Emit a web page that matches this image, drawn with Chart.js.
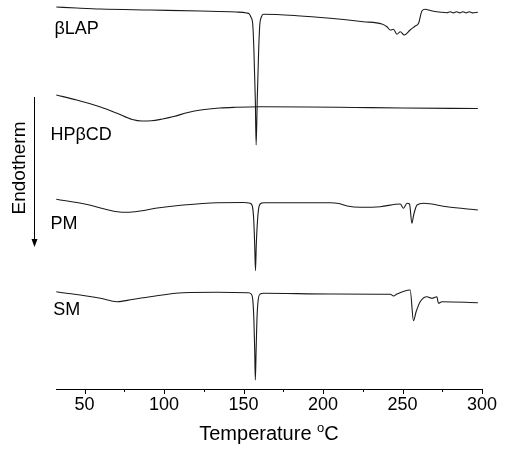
<!DOCTYPE html>
<html>
<head>
<meta charset="utf-8">
<script src="https://cdn.jsdelivr.net/npm/chart.js@4.4.0/dist/chart.umd.min.js"></script>
<style>
  html, body { margin: 0; padding: 0; background: #fff; }
</style>
</head>
<body>
<canvas id="dscChart" width="507" height="452"></canvas>
<script>
// DSC curves: temperature (°C) and heat flow (arbitrary units, curves stacked)
const lapTemp = [32.2, 45, 60, 91, 123, 145, 152, 153.6, 154.6, 155.8, 156.5, 157.4, 157.9, 158.6, 159.5, 160.2, 161.2, 162.5, 183.6, 204.5,
  225.3, 237, 240.2, 242.3, 244.3, 246.5, 248.6, 251.1, 254.8, 258, 260.1, 262.2, 264.3, 267.5, 271.6, 274, 277.9, 280, 282, 284,
  286, 288, 290, 292, 294, 297.4];
const lapFlow = [38.2, 38.1, 38.0, 37.9, 37.8, 37.7, 37.6, 37.5, 37.2, 36.4, 33.9, 28.9, 24.4, 28.9, 33.9, 36.4, 37.2, 37.47, 37.33, 37.07,
  36.73, 36.5, 36.23, 35.9, 35.97, 35.47, 35.73, 35.4, 35.9, 36.3, 36.57, 37.8, 37.97, 37.85, 37.73, 37.68, 37.63, 37.73, 37.61, 37.73,
  37.61, 37.73, 37.61, 37.73, 37.61, 37.67];

const cdTemp = [32.2, 45, 60, 70, 80, 86, 92, 99, 106, 115, 123, 135, 145, 160, 190, 220, 250, 297.4];
const cdFlow = [29.4, 28.9, 28.2, 27.6, 26.95, 26.8, 26.82, 27.0, 27.25, 27.65, 27.9, 28.1, 28.17, 28.22, 28.2, 28.15, 28.1, 28.05];

const pmTemp = [32.2, 50, 70.6, 76.9, 85, 95.7, 112.1, 133.5, 150, 154.2, 155.5, 156.4, 157, 157.5, 158, 158.8, 159.8, 161.5, 163, 204.5,
  210, 215.2, 223.4, 236, 248.6, 250.6, 252.8, 254.4, 255.9, 257, 259.1, 263.2, 277.9, 297.4];
const pmFlow = [18.97, 18.5, 17.73, 17.67, 17.8, 18.1, 18.4, 18.63, 18.65, 18.57, 18.3, 16.9, 14.4, 11.83, 14.4, 16.9, 18.3, 18.6, 18.63, 18.63,
  18.55, 18.3, 18.17, 18.23, 18.5, 18.07, 18.57, 18.5, 16.57, 17.4, 18.4, 18.57, 18.23, 17.9];

const smTemp = [32.2, 59.9, 70.4, 80, 91.3, 112.1, 133.5, 153, 154.8, 155.8, 156.5, 157, 157.4, 157.9, 158.4, 159.2, 160.5, 162.6, 204.5, 242.3,
  244.4, 246.5, 254.8, 256.9, 258.5, 261.1, 265.4, 268.5, 271.6, 272.6, 274.8, 297.4];
const smFlow = [9.73, 9.07, 8.73, 8.95, 9.23, 9.63, 9.67, 9.63, 9.5, 8.9, 6.9, 3.9, 0.9, 3.9, 6.9, 8.9, 9.5, 9.57, 9.5, 9.47,
  9.3, 9.5, 9.9, 6.83, 7.7, 8.73, 9.23, 9.07, 9.23, 8.57, 8.73, 8.63];

const curveNames = ['βLAP', 'HPβCD', 'PM', 'SM'];
const xTicks = [50, 100, 150, 200, 250, 300];
const xMinorTicks = [75, 125, 175, 225, 275];

// where the curve names sit, in data units (temperature, flow)
const nameAnchors = [[31, 35.5], [28.5, 24.9], [28.5, 16.0], [30.3, 7.4]];
const arrowSpan = [29.2, 14.2];   // Endotherm arrow, flow units

const FONT = '"Liberation Sans", Arial, Helvetica, sans-serif';

function pts(t, f) {
  return t.map((v, i) => ({ x: v, y: f[i] }));
}

const series = [pts(lapTemp, lapFlow), pts(cdTemp, cdFlow), pts(pmTemp, pmFlow), pts(smTemp, smFlow)];

const extras = {
  id: 'extras',
  afterDraw(chart) {
    const { ctx, chartArea, scales: { x, y } } = chart;
    const base = chartArea.bottom;
    ctx.save();
    ctx.strokeStyle = '#000';
    ctx.fillStyle = '#000';
    ctx.lineWidth = 1;

    // tick marks (major + minor)
    ctx.beginPath();
    xTicks.forEach(v => {
      const px = Math.round(x.getPixelForValue(v)) + 0.5;
      ctx.moveTo(px, base);
      ctx.lineTo(px, base + 5);
    });
    xMinorTicks.forEach(v => {
      const px = Math.round(x.getPixelForValue(v)) + 0.5;
      ctx.moveTo(px, base);
      ctx.lineTo(px, base + 3);
    });
    ctx.stroke();

    // curve names
    ctx.font = '18px ' + FONT;
    ctx.textAlign = 'left';
    ctx.textBaseline = 'alphabetic';
    curveNames.forEach((n, i) => {
      ctx.fillText(n, x.getPixelForValue(nameAnchors[i][0]), y.getPixelForValue(nameAnchors[i][1]));
    });

    // Endotherm arrow
    const ax = chartArea.left - 21.5;
    const aTop = y.getPixelForValue(arrowSpan[0]);
    const aBot = y.getPixelForValue(arrowSpan[1]);
    ctx.beginPath();
    ctx.moveTo(ax, aTop);
    ctx.lineTo(ax, aBot - 7);
    ctx.stroke();
    ctx.beginPath();
    ctx.moveTo(ax - 3, aBot - 8);
    ctx.lineTo(ax + 3, aBot - 8);
    ctx.lineTo(ax, aBot);
    ctx.closePath();
    ctx.fill();

    ctx.save();
    ctx.translate(chartArea.left - 36, 168);
    ctx.rotate(-Math.PI / 2);
    ctx.font = '19px ' + FONT;
    ctx.textAlign = 'center';
    ctx.textBaseline = 'middle';
    ctx.fillText('Endotherm', 0, 0);
    ctx.restore();

    // axis title with superscript o
    const cx = (chartArea.left + chartArea.right) / 2;
    const by = base + 51;
    ctx.font = '20px ' + FONT;
    const w1 = ctx.measureText('Temperature ').width;
    const w3 = ctx.measureText('C').width;
    ctx.font = '13px ' + FONT;
    const w2 = ctx.measureText('o').width;
    let sx = cx - (w1 + w2 + w3) / 2;
    ctx.textAlign = 'left';
    ctx.textBaseline = 'alphabetic';
    ctx.font = '20px ' + FONT;
    ctx.fillText('Temperature ', sx, by);
    ctx.font = '13px ' + FONT;
    ctx.fillText('o', sx + w1, by - 8);
    ctx.font = '20px ' + FONT;
    ctx.fillText('C', sx + w1 + w2, by);
    ctx.restore();
  }
};

new Chart(document.getElementById('dscChart'), {
  type: 'line',
  data: {
    datasets: series.map((d, i) => ({
      label: curveNames[i],
      data: d,
      borderColor: '#1a1a1a',
      borderWidth: 1.1,
      pointRadius: 0,
      fill: false,
      cubicInterpolationMode: 'monotone'
    }))
  },
  options: {
    responsive: false,
    animation: false,
    layout: { padding: { left: 56, right: 25, top: 0, bottom: 0 } },
    plugins: {
      legend: { display: false },
      tooltip: { enabled: false }
    },
    scales: {
      x: {
        type: 'linear',
        min: 32,
        max: 300,
        afterBuildTicks: s => { s.ticks = xTicks.map(v => ({ value: v })); },
        afterFit: s => { s.height = 63; },
        grid: { display: false, drawTicks: false },
        border: { display: true, color: '#000', width: 1 },
        ticks: { padding: 5, color: '#000', autoSkip: false, maxRotation: 0, font: { family: FONT, size: 18 } }
      },
      y: { display: false, min: 0, max: 38.9 }
    }
  },
  plugins: [extras]
});
</script>
</body>
</html>
